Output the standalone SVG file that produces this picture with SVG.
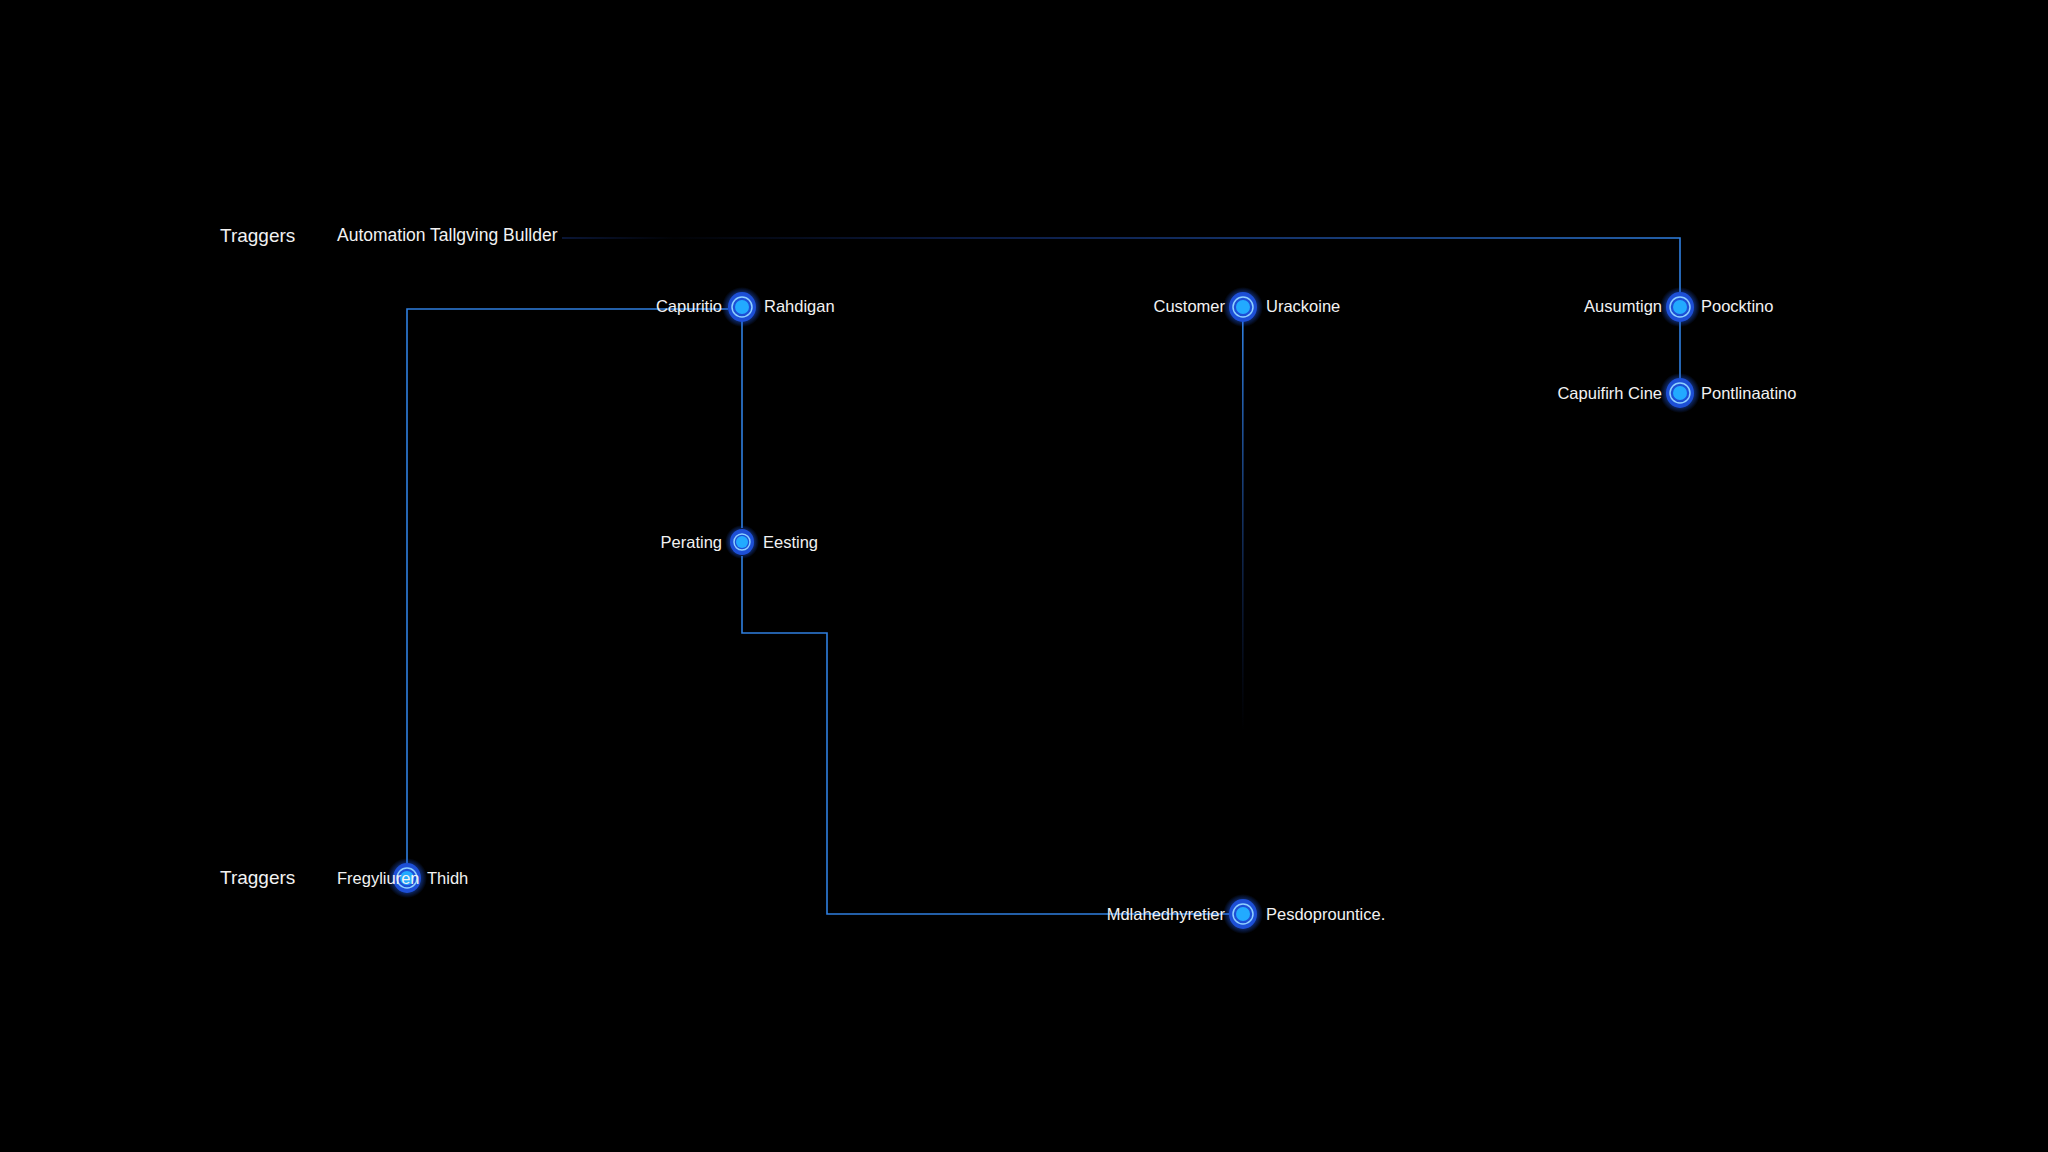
<svg xmlns="http://www.w3.org/2000/svg" width="2048" height="1152" viewBox="0 0 2048 1152">
<defs>
<linearGradient id="fadeR" x1="0" x2="1" y1="0" y2="0"><stop offset="0" stop-color="#2f7fe0"/><stop offset="1" stop-color="#1a3a90" stop-opacity="0.3"/></linearGradient>
<linearGradient id="fadeTop" x1="0" x2="1" y1="0" y2="0"><stop offset="0" stop-color="#1a3a90" stop-opacity="0.5"/><stop offset="0.1" stop-color="#1a3a90" stop-opacity="0.05"/><stop offset="0.35" stop-color="#1e46b0" stop-opacity="0.5"/><stop offset="1" stop-color="#2f7fe0"/></linearGradient>
<linearGradient id="fadeD" x1="0" x2="0" y1="0" y2="1"><stop offset="0" stop-color="#2f7fe0"/><stop offset="1" stop-color="#1a3a90" stop-opacity="0"/></linearGradient>
<radialGradient id="glow"><stop offset="0.6" stop-color="#1f5cf0" stop-opacity="0.6"/><stop offset="1" stop-color="#1f5cf0" stop-opacity="0"/></radialGradient>
</defs>
<style>
text{font-family:"Liberation Sans",Arial,sans-serif;fill:#f2f2f2;font-size:16.5px}
.h{font-size:19px}
.a{font-size:17.5px}
.e{fill:none;stroke:#2f7fe0;stroke-width:1.6}
.outer{fill:#1d4fd6}
.ring{fill:none;stroke:#8fd0ff;stroke-width:1.5}
.inner{fill:#22aaff}
</style>
<rect width="2048" height="1152" fill="#000"/>
<text class="h" x="220" y="242">Traggers</text>
<text class="h" x="220" y="884">Traggers</text>
<g id="connectors">
<path d="M562 238 H1680 V293" fill="none" stroke="url(#fadeTop)" stroke-width="1.6"/>
<path class="e" d="M728 309 H407 V864"/>
<path d="M756 307 H1229" fill="none" stroke="url(#fadeR)" stroke-width="1.6"/>
<path class="e" d="M742 321 V528"/>
<path class="e" d="M742 556 V633 H827 V914 H1229"/>
<rect x="1242" y="321" width="1.6" height="410" fill="url(#fadeD)"/>
<path class="e" d="M1680 321 V379" stroke="#1e46b0"/>
</g>
<g id="auto"><text class="a" x="337" y="241">Automation Tallgving Bullder</text></g>
<g id="nA"><circle cx="742" cy="307" r="20" fill="url(#glow)"/><ellipse class="outer" cx="742" cy="307" rx="14" ry="15"/><circle class="ring" cx="742" cy="307" r="10"/><circle class="inner" cx="742" cy="307" r="7"/>
<text x="722" y="312" text-anchor="end">Capuritio</text><text x="764" y="312">Rahdigan</text></g>
<g id="nB"><circle cx="1243" cy="307" r="20" fill="url(#glow)"/><ellipse class="outer" cx="1243" cy="307" rx="14" ry="15"/><circle class="ring" cx="1243" cy="307" r="10"/><circle class="inner" cx="1243" cy="307" r="7"/>
<text x="1225" y="312" text-anchor="end">Customer</text><text x="1266" y="312">Urackoine</text></g>
<g id="nC"><circle cx="1680" cy="307" r="20" fill="url(#glow)"/><ellipse class="outer" cx="1680" cy="307" rx="14" ry="15"/><circle class="ring" cx="1680" cy="307" r="10"/><circle class="inner" cx="1680" cy="307" r="7"/>
<text x="1662" y="312" text-anchor="end">Ausumtign</text><text x="1701" y="312">Poocktino</text></g>
<g id="nD"><circle cx="1680" cy="393" r="20" fill="url(#glow)"/><ellipse class="outer" cx="1680" cy="393" rx="14" ry="15"/><circle class="ring" cx="1680" cy="393" r="10"/><circle class="inner" cx="1680" cy="393" r="7"/>
<text x="1662" y="399" text-anchor="end">Capuifirh Cine</text><text x="1701" y="399">Pontlinaatino</text></g>
<g id="nE"><circle cx="742" cy="542" r="17" fill="url(#glow)"/><ellipse class="outer" cx="742" cy="542" rx="12" ry="13" fill="#1a3aa8"/><circle class="ring" cx="742" cy="542" r="8"/><circle class="inner" cx="742" cy="542" r="6"/>
<text x="722" y="548" text-anchor="end">Perating</text><text x="763" y="548">Eesting</text></g>
<g id="nF"><circle cx="407" cy="878" r="20" fill="url(#glow)"/><ellipse class="outer" cx="407" cy="878" rx="14" ry="15"/><circle class="ring" cx="407" cy="878" r="10"/><circle class="inner" cx="407" cy="878" r="7"/>
<text x="337" y="884">Fregyliuren</text><text x="427" y="884">Thidh</text></g>
<g id="nG"><circle cx="1243" cy="914" r="20" fill="url(#glow)"/><ellipse class="outer" cx="1243" cy="914" rx="14" ry="15"/><circle class="ring" cx="1243" cy="914" r="10"/><circle class="inner" cx="1243" cy="914" r="7"/>
<text x="1225" y="920" text-anchor="end">Mdlahedhyretier</text><text x="1266" y="920">Pesdoprountice.</text></g>
</svg>
